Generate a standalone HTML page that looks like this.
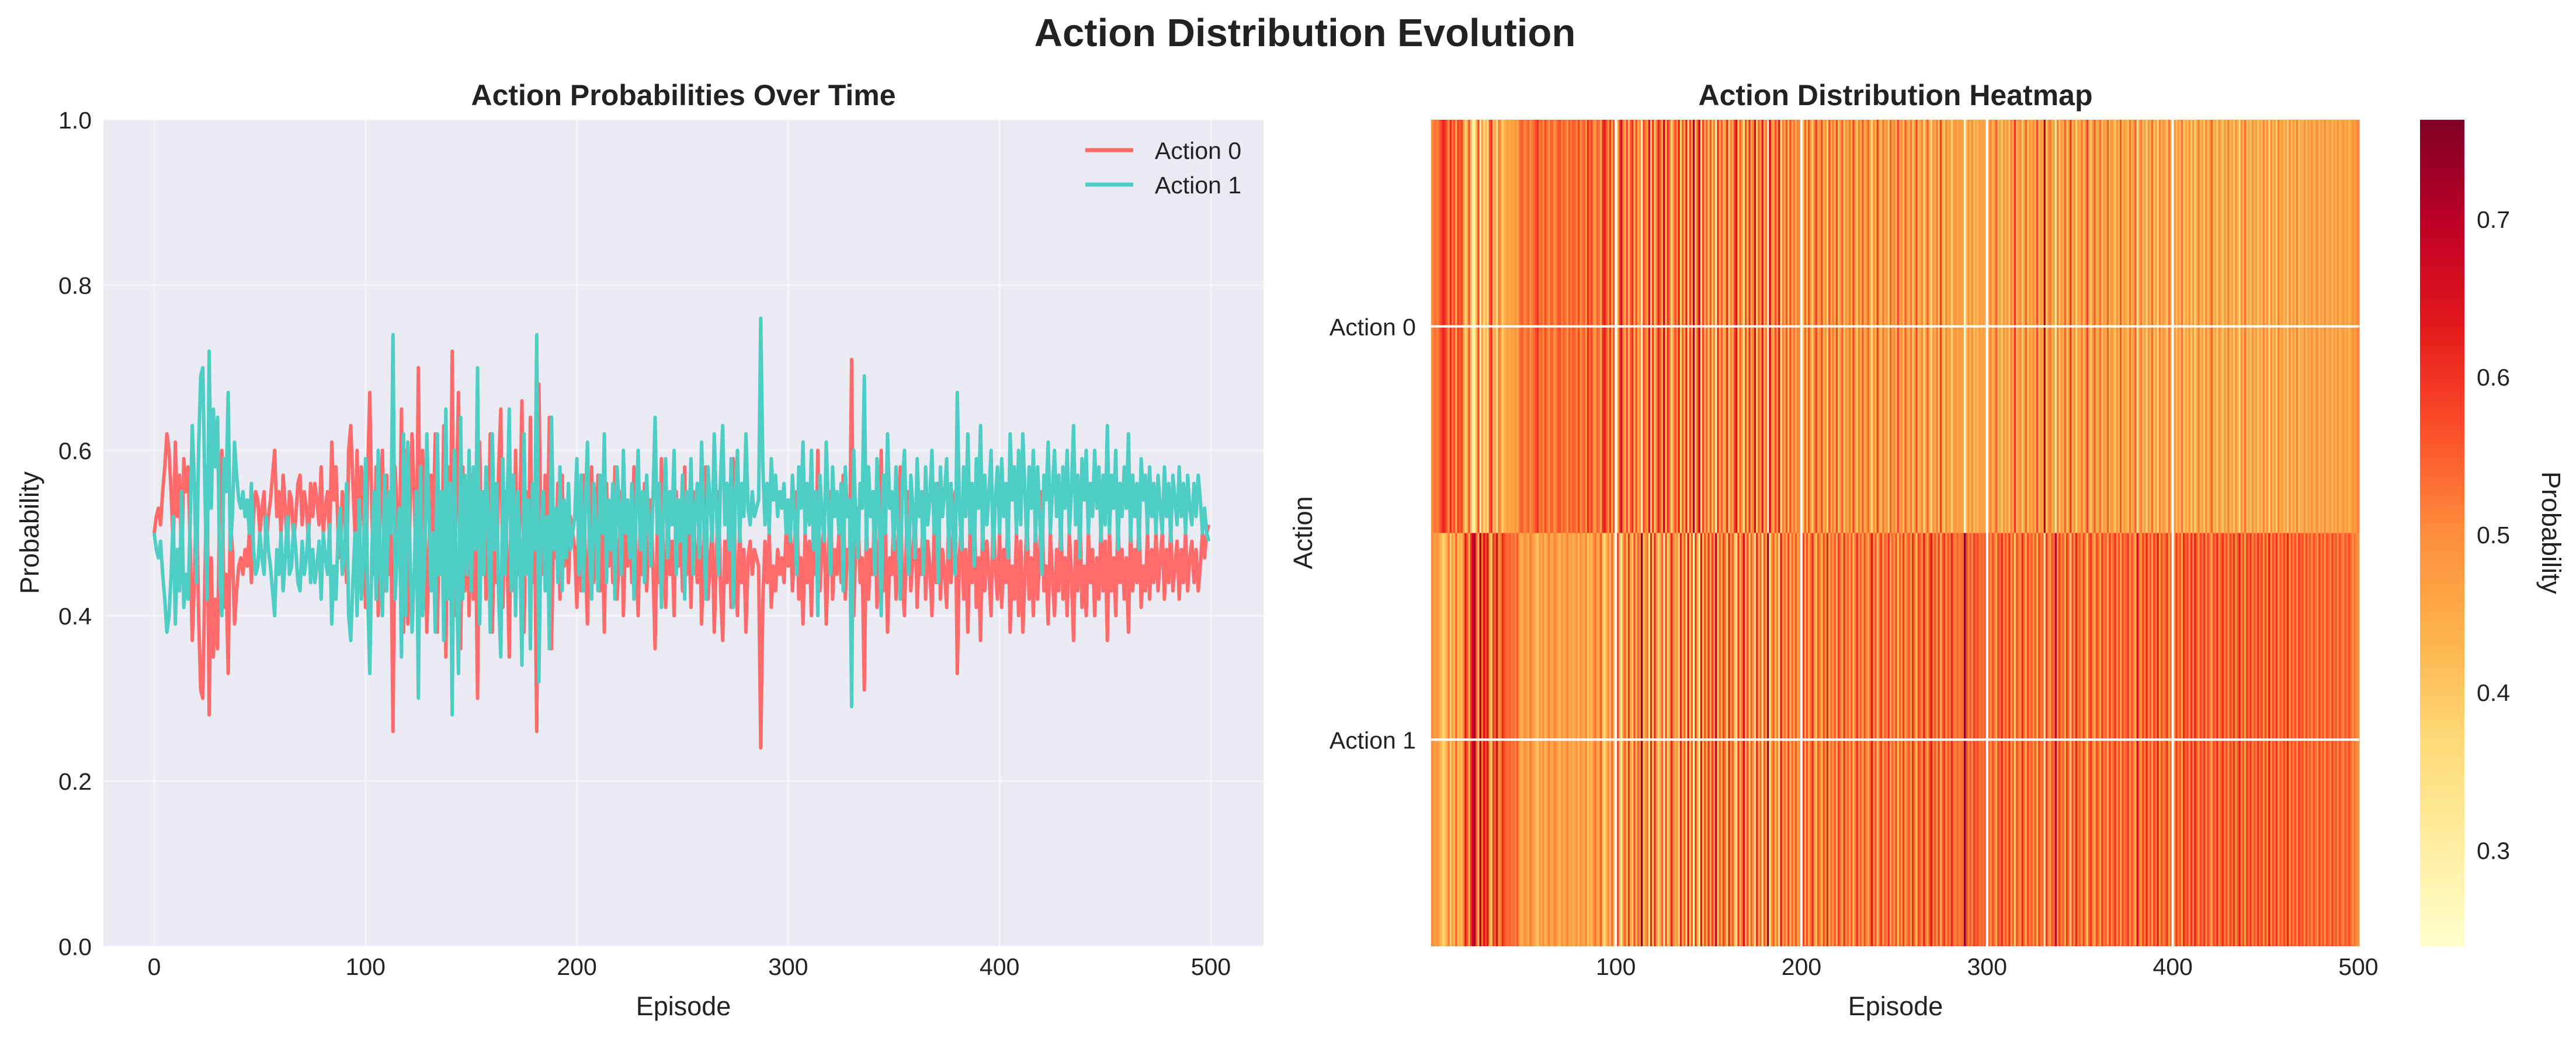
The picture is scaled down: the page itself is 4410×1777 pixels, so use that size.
<!DOCTYPE html>
<html><head><meta charset="utf-8"><style>
html,body{margin:0;padding:0;background:#fff}
svg{display:block;font-family:"Liberation Sans",Arial,sans-serif}
</style></head><body>
<svg id="fig" width="4410" height="1777" viewBox="0 0 4410 1777" xmlns="http://www.w3.org/2000/svg">
<rect width="4410" height="1777" fill="#fff"/>
<text x="2234" y="79" font-size="67" font-weight="bold" text-anchor="middle" fill="#222">Action Distribution Evolution</text>
<g id="left"></g>
<g id="right"></g>
</svg>
<script>
const episodes = Array.from({length:500},(_, i)=>i+1);
const action0 = [
.50,.52,.53,.51,.55,.58,.62,.60,.55,.48,.61,.52,.57,.45,.59,.55,.58,.49,.37,.44,.56,.40,.31,.30,.45,
.58,.28,.47,.35,.42,.36,.55,.60,.41,.45,.33,.52,.48,.39,.43,.46,.47,.45,.48,.46,.50,.44,.52,.55,.54,
.50,.53,.55,.48,.52,.54,.57,.60,.52,.55,.50,.57,.53,.48,.55,.54,.49,.52,.56,.57,.51,.55,.53,.49,.56,
.52,.56,.54,.51,.58,.50,.53,.55,.49,.61,.54,.58,.50,.47,.55,.53,.44,.60,.63,.56,.50,.60,.46,.58,.54,
.41,.57,.67,.52,.45,.58,.40,.55,.60,.43,.57,.45,.50,.26,.58,.52,.47,.65,.38,.60,.39,.52,.62,.55,.45,
.70,.42,.60,.53,.38,.48,.57,.50,.62,.38,.55,.45,.63,.35,.58,.44,.72,.40,.55,.67,.36,.58,.43,.55,.40,
.57,.42,.52,.30,.61,.45,.55,.42,.48,.62,.38,.52,.44,.58,.65,.41,.55,.47,.35,.57,.43,.60,.45,.52,.66,
.38,.55,.46,.64,.44,.52,.26,.68,.50,.45,.57,.48,.64,.36,.52,.47,.56,.42,.57,.46,.53,.44,.52,.50,.48,
.41,.55,.43,.57,.47,.39,.52,.58,.44,.49,.57,.43,.50,.38,.56,.46,.52,.44,.58,.42,.47,.55,.40,.50,.46,
.53,.44,.58,.47,.40,.52,.45,.56,.43,.49,.54,.46,.36,.50,.44,.59,.47,.41,.53,.45,.49,.40,.55,.46,.51,
.43,.58,.45,.50,.41,.55,.47,.44,.53,.39,.48,.58,.42,.46,.51,.38,.47,.55,.43,.37,.49,.44,.52,.41,.59,
.45,.40,.51,.44,.48,.38,.47,.49,.45,.48,.47,.46,.24,.42,.49,.44,.50,.41,.46,.43,.48,.45,.47,.44,.50,
.46,.51,.43,.48,.55,.42,.47,.39,.50,.44,.49,.40,.52,.45,.60,.43,.48,.51,.39,.47,.55,.42,.48,.45,.50,
.44,.57,.42,.48,.46,.71,.40,.49,.53,.44,.47,.31,.52,.42,.48,.45,.55,.41,.47,.60,.43,.50,.38,.47,.45,
.52,.42,.49,.58,.44,.40,.50,.55,.43,.47,.53,.41,.48,.45,.55,.42,.49,.46,.40,.50,.44,.56,.42,.48,.45,
.41,.53,.44,.49,.55,.33,.47,.52,.42,.48,.38,.50,.44,.54,.41,.47,.37,.52,.43,.49,.45,.40,.53,.46,.42,
.50,.41,.48,.44,.53,.38,.46,.42,.50,.40,.49,.38,.45,.52,.42,.47,.40,.51,.42,.48,.55,.43,.46,.39,.50,
.45,.40,.48,.43,.52,.42,.47,.40,.50,.45,.37,.49,.43,.53,.41,.46,.40,.50,.44,.48,.40,.47,.42,.51,.43,
.49,.37,.50,.43,.47,.40,.52,.44,.48,.42,.47,.38,.51,.43,.48,.44,.52,.41,.46,.43,.50,.42,.48,.44,.50,
.43,.47,.50,.42,.48,.44,.51,.43,.46,.49,.42,.48,.44,.50,.43,.47,.49,.44,.48,.43,.46,.50,.47,.50,.51];
const action1 = action0.map(v=>+(1-v).toFixed(3));
const seriesNames = ["Action 0","Action 1"];
const xTicks = [0,100,200,300,400,500];
const yTicks = [0.0,0.2,0.4,0.6,0.8,1.0];
const hmXTicks = [100,200,300,400,500];
const cbTicks = [0.3,0.4,0.5,0.6,0.7];
const cbMin = 0.239, cbMax = 0.763;

const TICK=41, LAB=45, TTL=50;
const NS="http://www.w3.org/2000/svg";
function mk(tag, attrs, parent, text){const e=document.createElementNS(NS,tag);for(const k in attrs)e.setAttribute(k,attrs[k]);if(text!==undefined)e.textContent=text;parent.appendChild(e);return e;}

// ---- Left line chart ----
const L=document.getElementById('left');
const ax={l:177,r:2163,t:205,b:1620};
const xs=v=>264+(v/500)*(2073-264);
const ys=v=>ax.b-v*(ax.b-ax.t);
let e=mk('rect',{x:ax.l,y:ax.t,width:ax.r-ax.l,height:ax.b-ax.t,fill:'#EAEAF2'},L);


xTicks.forEach(t=>{
  let g=mk('line',{x1:xs(t),x2:xs(t),y1:ax.t,y2:ax.b,stroke:'#fff','stroke-width':3,'stroke-opacity':0.45},L);
  
  
  let tl=mk('text',{x:xs(t),y:1669,'font-size':TICK,'text-anchor':'middle',fill:'#222'},L,String(t));
  
  
});
yTicks.forEach(t=>{
  let g=mk('line',{x1:ax.l,x2:ax.r,y1:ys(t),y2:ys(t),stroke:'#fff','stroke-width':3,'stroke-opacity':0.45},L);
  
  
  let tl=mk('text',{x:157,y:ys(t)+15,'font-size':TICK,'text-anchor':'end',fill:'#222'},L,t.toFixed(1));
  
  
});
[[action0,'#FF6B6B','line-action-0'],[action1,'#4ECDC4','line-action-1']].forEach(([d,c,n])=>{
  const pts=d.map((v,i)=>xs(episodes[i]-1)+','+ys(v).toFixed(1)).join(' ');
  let p=mk('polyline',{points:pts,fill:'none',stroke:c,'stroke-width':6,'stroke-linejoin':'round'},L);
  
  
});
let t1=mk('text',{x:1170,y:180,'font-size':TTL,'font-weight':'bold','text-anchor':'middle',fill:'#222'},L,'Action Probabilities Over Time');


let xl=mk('text',{x:1170,y:1738,'font-size':LAB,'text-anchor':'middle',fill:'#222'},L,'Episode');


let yl=mk('text',{x:0,y:0,'font-size':LAB,'text-anchor':'middle',fill:'#222',transform:'translate(66,912) rotate(-90)'},L,'Probability');


[['#FF6B6B',257],['#4ECDC4',316]].forEach(([c,y],i)=>{
  let ln=mk('line',{x1:1858,x2:1940,y1:y,y2:y,stroke:c,'stroke-width':7},L);
  
  
  let lt=mk('text',{x:1977,y:y+15,'font-size':TICK,fill:'#222'},L,seriesNames[i]);
  
  
});

// ---- Right heatmap ----
const R=document.getElementById('right');
const hm={l:2450,r:4039,t:205,b:1620};
const stops=[[0,'#ffffcc'],[.125,'#ffeda0'],[.25,'#fed976'],[.375,'#feb24c'],[.5,'#fd8d3c'],[.625,'#fc4e2a'],[.75,'#e31a1c'],[.875,'#bd0026'],[1,'#800026']];
function hex(h){return[1,3,5].map(i=>parseInt(h.substr(i,2),16));}
function cmap(v){let f=Math.max(0,Math.min(1,(v-cbMin)/(cbMax-cbMin)));for(let i=1;i<stops.length;i++){if(f<=stops[i][0]){const a=hex(stops[i-1][1]),b=hex(stops[i][1]);const u=(f-stops[i-1][0])/(stops[i][0]-stops[i-1][0]);return 'rgb('+a.map((x,k)=>Math.round(x+(b[k]-x)*u)).join(',')+')';}}return stops[8][1];}
const cw=(hm.r-hm.l)/500, rh=(hm.b-hm.t)/2;
const hx=ep=>hm.l+(ep-0.5)/500*(hm.r-hm.l);
[action0,action1].forEach((d,row)=>{
  d.forEach((v,i)=>{
    let c=mk('rect',{x:(hm.l+i*cw).toFixed(2),y:hm.t+row*rh,width:(cw+0.6).toFixed(2),height:rh,fill:cmap(v)},R);
    
    
  });
});
hmXTicks.forEach(t=>{
  const x=Math.min(hx(t),hm.r);
  if(t<500){let g=mk('line',{x1:x,x2:x,y1:hm.t,y2:hm.b,stroke:'#fff','stroke-width':4},R);
  
  }
  let tl=mk('text',{x:x,y:1669,'font-size':TICK,'text-anchor':'middle',fill:'#222'},R,String(t));
  
  
});
seriesNames.forEach((n,i)=>{
  const y=hm.t+rh*(i+0.5);
  let g=mk('line',{x1:hm.l,x2:hm.r,y1:y,y2:y,stroke:'#fff','stroke-width':4},R);
  
  
  let tl=mk('text',{x:2424,y:y+15,'font-size':TICK,'text-anchor':'end',fill:'#222'},R,n);
  
  
});
let t2=mk('text',{x:3245,y:180,'font-size':TTL,'font-weight':'bold','text-anchor':'middle',fill:'#222'},R,'Action Distribution Heatmap');


let hxl=mk('text',{x:3245,y:1738,'font-size':LAB,'text-anchor':'middle',fill:'#222'},R,'Episode');


let hyl=mk('text',{x:0,y:0,'font-size':LAB,'text-anchor':'middle',fill:'#222',transform:'translate(2246,912) rotate(-90)'},R,'Action');


// colorbar
const cb={l:4143,r:4219,t:205,b:1620};
const defs=mk('defs',{},R);
const lg=mk('linearGradient',{id:'cbg',x1:0,y1:1,x2:0,y2:0},defs);
stops.forEach(s=>mk('stop',{offset:s[0],'stop-color':s[1]},lg));
let cbr=mk('rect',{x:cb.l,y:cb.t,width:cb.r-cb.l,height:cb.b-cb.t,fill:'url(#cbg)'},R);


const cy=v=>cb.b-(v-cbMin)/(cbMax-cbMin)*(cb.b-cb.t);
cbTicks.forEach(t=>{
  let tl=mk('text',{x:4240,y:cy(t)+15,'font-size':TICK,fill:'#222'},R,t.toFixed(1));
  
  
});
let cbl=mk('text',{x:0,y:0,'font-size':LAB,'text-anchor':'middle',fill:'#222',transform:'translate(4352,912) rotate(90)'},R,'Probability');


</script>
</body></html>
